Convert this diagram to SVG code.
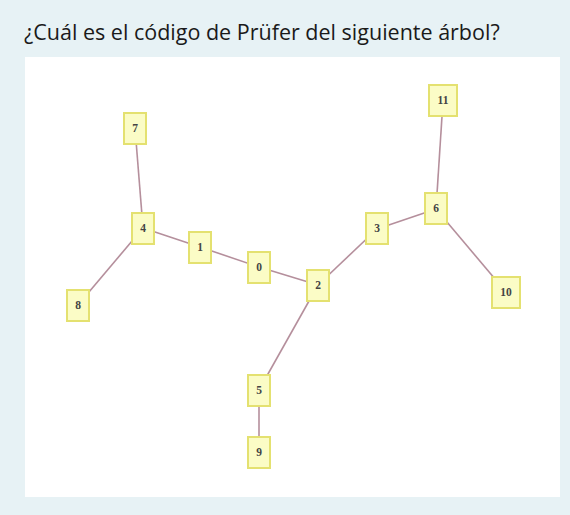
<svg xmlns="http://www.w3.org/2000/svg" width="570" height="515" viewBox="0 0 570 515">
<style>
.bg{fill:#e7f2f5}
.panel{fill:#ffffff}
.title{font-family:"Open Sans","Noto Sans",sans-serif;font-size:21.5px;fill:#1a1a1a}
.edge{stroke:#b58f9c;stroke-width:1.6;fill:none}
.node rect{fill:#fbfcc6;stroke:#e4e170;stroke-width:2}
.node text{font-family:"Liberation Serif","DejaVu Serif",serif;font-size:11.5px;font-weight:bold;fill:#444;text-anchor:middle}
</style>
<rect class="bg" x="0" y="0" width="570" height="515"/>
<text class="title" x="24" y="40">¿Cuál es el código de Prüfer del siguiente árbol?</text>
<rect class="panel" x="25" y="57" width="535" height="440"/>
<g id="connectors">
<line class="edge" x1="135" y1="128" x2="143" y2="228"/>
<line class="edge" x1="143" y1="228" x2="78" y2="305"/>
<line class="edge" x1="143" y1="228" x2="200" y2="247"/>
<line class="edge" x1="200" y1="247" x2="259" y2="267"/>
<line class="edge" x1="259" y1="267" x2="318" y2="285"/>
<line class="edge" x1="318" y1="285" x2="377" y2="229"/>
<line class="edge" x1="377" y1="229" x2="436" y2="209"/>
<line class="edge" x1="436" y1="209" x2="443" y2="101"/>
<line class="edge" x1="436" y1="209" x2="506" y2="292"/>
<line class="edge" x1="318" y1="285" x2="259" y2="390"/>
<line class="edge" x1="259" y1="390" x2="259" y2="452"/>
</g>
<g id="n7" class="node"><rect x="124" y="113" width="22" height="31"/><text x="135" y="132">7</text></g>
<g id="n4" class="node"><rect x="132" y="213" width="22" height="31"/><text x="143" y="232">4</text></g>
<g id="n8" class="node"><rect x="67" y="290" width="22" height="31"/><text x="78" y="309">8</text></g>
<g id="n1" class="node"><rect x="189" y="232" width="22" height="31"/><text x="200" y="251">1</text></g>
<g id="n0" class="node"><rect x="248" y="252" width="22" height="31"/><text x="259" y="271">0</text></g>
<g id="n2" class="node"><rect x="307" y="270" width="22" height="31"/><text x="318" y="289">2</text></g>
<g id="n3" class="node"><rect x="366" y="213" width="22" height="31"/><text x="377" y="232">3</text></g>
<g id="n6" class="node"><rect x="425" y="193" width="22" height="31"/><text x="436" y="212">6</text></g>
<g id="n11" class="node"><rect x="429" y="85" width="28" height="31"/><text x="443" y="104">11</text></g>
<g id="n10" class="node"><rect x="492" y="277" width="28" height="31"/><text x="506" y="296">10</text></g>
<g id="n5" class="node"><rect x="248" y="375" width="22" height="31"/><text x="259" y="394">5</text></g>
<g id="n9" class="node"><rect x="248" y="437" width="22" height="31"/><text x="259" y="456">9</text></g>
</svg>
